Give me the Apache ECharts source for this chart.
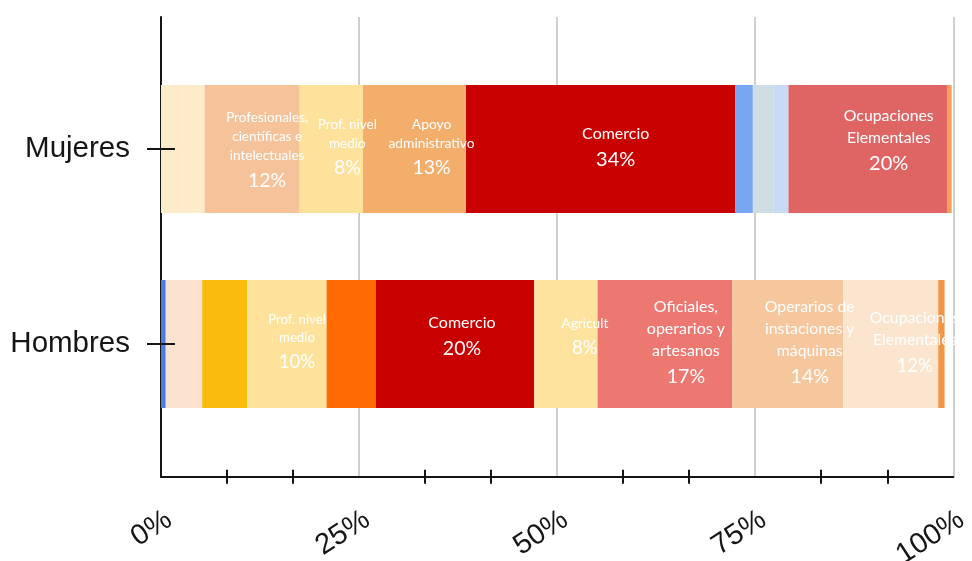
<!DOCTYPE html>
<html>
<head>
<meta charset="utf-8">
<script src="https://cdn.jsdelivr.net/npm/echarts@6/dist/echarts.min.js"></script>
<style>
  html, body { margin: 0; padding: 0; background: #ffffff; }
  #chart { width: 972px; height: 561px; }
</style>
</head>
<body>
<div id="chart"></div>
<script>
// ---- Data ----
const categories = ['Mujeres', 'Hombres'];
const xTicks = [0, 25, 50, 75, 100];

const mujeresOcupaciones = [
  'Directores y gerentes',
  'Profesionales,\ncientíficas e\nintelectuales',
  'Prof. nivel\nmedio',
  'Apoyo\nadministrativo',
  'Comercio',
  'Agricultura',
  'Artesanos',
  'Operadores',
  'Ocupaciones\nElementales',
  'Ocupaciones militares'
];
const mujeresValores = [5.5, 12, 8, 13, 34, 2.2, 2.6, 1.9, 20, 0.6];
const mujeresConEtiqueta = [false, true, true, true, true, false, false, false, true, false];

const hombresOcupaciones = [
  'Ocupaciones militares',
  'Directores y gerentes',
  'Profesionales, científicas e intelectuales',
  'Prof. nivel\nmedio',
  'Apoyo administrativo',
  'Comercio',
  'Agricult',
  'Oficiales,\noperarios y\nartesanos',
  'Operarios de\ninstaciones y\nmáquinas',
  'Ocupaciones\nElementales',
  'Otras'
];
const hombresValores = [0.6, 4.6, 5.7, 10, 6.2, 20, 8, 17, 14, 12, 0.8];
const hombresConEtiqueta = [false, false, false, true, false, true, true, true, true, true, false];

// ---- Styles ----
const mujeresColores = ['#FDEBC9', '#F5C29A', '#FEE29C', '#F3AE6C', '#C80000', '#78A6F1', '#D0DDE3', '#C8DAF6', '#DF6565', '#F4A05A'];
const hombresColores = ['#4A7FDF', '#FBE3CF', '#FBBB0C', '#FEE29C', '#FF6B00', '#C80000', '#FEE39E', '#ED7771', '#F6C69D', '#FCE5CF', '#F29546'];

const mujeresTamNombre = [0, 13.5, 13.5, 13.8, 16, 0, 0, 0, 15.8, 0];
const mujeresTamPct = [0, 19.5, 19.5, 19.5, 20, 0, 0, 0, 20, 0];
const mujeresDesp = [[0,0],[15,3],[16,0],[17,0],[15,0],[0,0],[0,0],[0,0],[21,-7],[0,0]];

const hombresTamNombre = [0, 0, 0, 13.2, 0, 16, 13.7, 16, 15.8, 15.8, 0];
const hombresTamPct = [0, 0, 0, 18.5, 0, 19.5, 18.5, 19.5, 19.5, 18.5, 0];
const hombresDesp = [[0,0],[0,0],[0,0],[10,0],[0,0],[7,-6],[19,-5],[21,0],[22,0],[24,0],[0,0]];

const ink = '#151515';
const labelFont = 'Lato, "Open Sans", sans-serif';
const axisFont = '"Liberation Sans", Arial, sans-serif';

function buildSeries(names, values, colors, labelled, nameSizes, pctSizes, offsets, catIndex) {
  return values.map(function (v, i) {
    const ns = nameSizes[i] || 12;
    const ps = pctSizes[i] || 18;
    const lines = names[i].split('\n');
    return {
      type: 'bar',
      name: lines.join(' '),
      stack: 'total',
      xAxisIndex: 2,
      yAxisIndex: 1,
      barWidth: 128,
      silent: true,
      data: categories.map(function (c, k) { return k === catIndex ? v : '-'; }),
      itemStyle: { color: colors[i] },
      label: {
        show: labelled[i],
        position: 'inside',
        offset: offsets[i],
        color: '#ffffff',
        fontFamily: labelFont,
        formatter: function (p) {
          return lines.map(function (l) { return '{n|' + l + '}'; }).join('\n') +
            '\n{p|' + p.value + '%}';
        },
        rich: {
          n: { fontSize: ns, lineHeight: Math.round(ns * 1.38), color: '#ffffff', fontFamily: labelFont, align: 'center' },
          p: { fontSize: ps, lineHeight: 30, color: '#ffffff', fontFamily: labelFont, align: 'center' }
        }
      }
    };
  });
}

const series = []
  .concat(buildSeries(mujeresOcupaciones, mujeresValores, mujeresColores, mujeresConEtiqueta,
                      mujeresTamNombre, mujeresTamPct, mujeresDesp, 0))
  .concat(buildSeries(hombresOcupaciones, hombresValores, hombresColores, hombresConEtiqueta,
                      hombresTamNombre, hombresTamPct, hombresDesp, 1));

const chart = echarts.init(document.getElementById('chart'), null, { renderer: 'canvas' });

chart.setOption({
  animation: false,
  backgroundColor: '#ffffff',
  grid: [
    // frame: axes and gridlines
    { left: 161, right: 18.7, top: 17, bottom: 84.3, containLabel: false, outerBoundsMode: 'none' },
    // bars
    { left: 161, right: 18.7, top: 51.5, bottom: 119.5, containLabel: false, outerBoundsMode: 'none' }
  ],
  xAxis: [
    {
      gridIndex: 0,
      type: 'value',
      position: 'bottom',
      min: xTicks[0],
      max: xTicks[xTicks.length - 1],
      interval: xTicks[1] - xTicks[0],
      axisLine: { show: true, lineStyle: { color: ink, width: 2 } },
      axisTick: { show: false },
      minorTick: { show: true, splitNumber: 3, length: 7, lineStyle: { color: ink, width: 2 } },
      splitLine: { show: true, showMinLine: false, lineStyle: { color: '#cfcfcf', width: 2 } },
      axisLabel: {
        formatter: '{value}%',
        rotate: 33,
        margin: 28,
        align: 'right',
        verticalAlign: 'top',
        lineHeight: 30,
        fontSize: 29,
        fontFamily: axisFont,
        color: ink
      }
    },
    {
      gridIndex: 0,
      type: 'value',
      position: 'bottom',
      min: xTicks[0],
      max: xTicks[xTicks.length - 1],
      interval: xTicks[1] - xTicks[0],
      axisLine: { show: false },
      axisTick: { show: false, inside: true },
      minorTick: { show: true, splitNumber: 3, length: 7, lineStyle: { color: ink, width: 2 } },
      splitLine: { show: false },
      axisLabel: { show: false }
    },
    {
      gridIndex: 1,
      type: 'value',
      position: 'bottom',
      min: xTicks[0],
      max: xTicks[xTicks.length - 1],
      show: false
    }
  ],
  yAxis: [
    {
      gridIndex: 0,
      type: 'value',
      position: 'left',
      min: 0,
      max: 1,
      axisLine: { show: true, lineStyle: { color: ink, width: 2 } },
      axisTick: { show: false },
      axisLabel: { show: false },
      splitLine: { show: false }
    },
    {
      gridIndex: 1,
      type: 'category',
      position: 'left',
      inverse: true,
      data: categories,
      axisLine: { show: false },
      axisTick: { show: true, alignWithLabel: true, length: 14, lineStyle: { color: ink, width: 2 } },
      axisLabel: { margin: 31, fontSize: 29.5, fontFamily: axisFont, color: ink },
      splitLine: { show: false }
    },
    {
      gridIndex: 1,
      type: 'category',
      position: 'left',
      inverse: true,
      data: categories,
      z: 10,
      axisLine: { show: false },
      axisTick: { show: true, inside: true, alignWithLabel: true, length: 14, lineStyle: { color: ink, width: 2 } },
      axisLabel: { show: false },
      splitLine: { show: false }
    }
  ],
  series: series
});
</script>
</body>
</html>
